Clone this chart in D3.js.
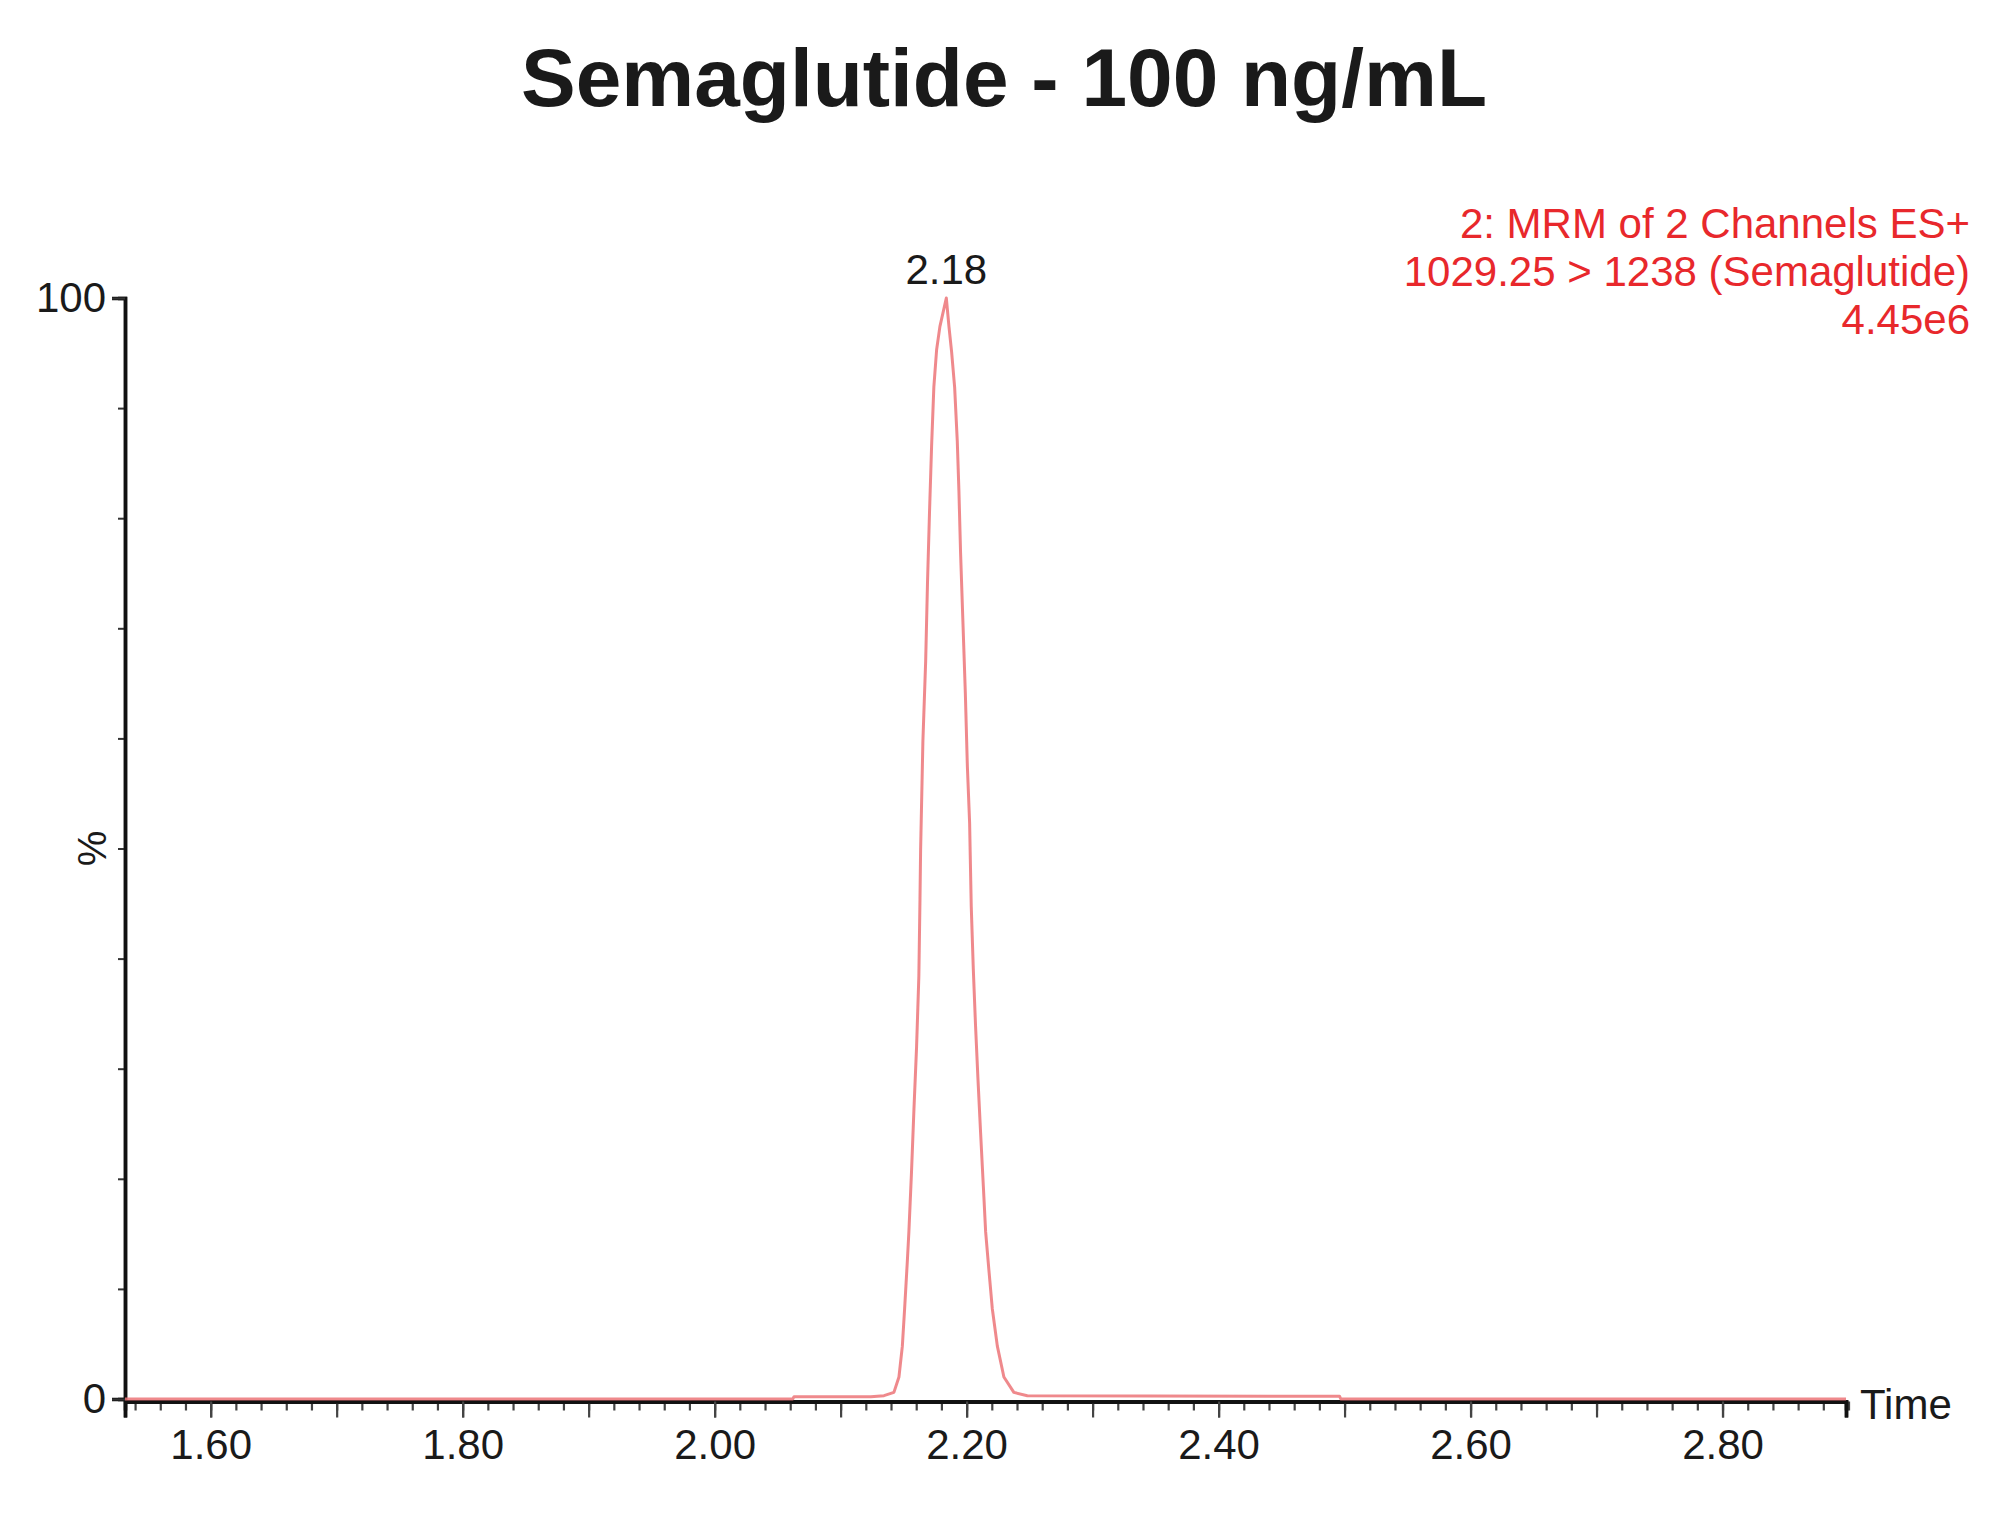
<!DOCTYPE html>
<html>
<head>
<meta charset="utf-8">
<script src="https://cdn.jsdelivr.net/npm/d3@7/dist/d3.min.js"></script>
<style>
  body { margin: 0; background: #fff; }
  svg { display: block; }
  text { font-family: "Liberation Sans", Arial, sans-serif; }
</style>
</head>
<body>
<svg id="chart" width="2000" height="1517"></svg>
<script>
// retention time (min) and relative intensity (%)
const times = [1.532, 2.062, 2.063, 2.124, 2.1344, 2.1423, 2.1463, 2.1490, 2.1508, 2.1529,
    2.1542, 2.1563, 2.1582, 2.1603, 2.1621, 2.1630, 2.1635, 2.1653, 2.1675, 2.1690,
    2.1706, 2.1722, 2.1740, 2.1762, 2.1788, 2.1839, 2.1860, 2.1881, 2.1905, 2.1926,
    2.1939, 2.1952, 2.1971, 2.1990, 2.2006, 2.2024, 2.2028, 2.2037, 2.2053, 2.2071,
    2.2090, 2.2111, 2.2133, 2.2151, 2.2177, 2.2204, 2.2244, 2.2296, 2.2375, 2.2482,
    2.496, 2.497, 2.898];
const intensity = [0, 0, 0.2, 0.2, 0.3, 0.6, 2.0, 4.8, 8.2, 12.4,
    15.2, 20.7, 26.3, 32.0, 38.4, 45.4, 49.9, 59.7, 67.0, 74.3,
    80.7, 86.5, 91.9, 95.3, 97.4, 100, 97.4, 95.1, 91.9, 87.0,
    82.5, 76.9, 70.5, 64.1, 57.5, 52.3, 49.9, 44.7, 39.1, 33.9,
    29.1, 24.2, 19.3, 15.2, 11.7, 8.2, 4.8, 2.0, 0.6, 0.3,
    0.25, 0, 0];

const xDomain = [1.532, 2.898];
const xMinorTicks = d3.range(0, 69).map(i => +(1.54 + i * 0.02).toFixed(2));
const xMidTicks = [1.60, 1.70, 1.80, 1.90, 2.00, 2.10, 2.20, 2.30, 2.40, 2.50, 2.60, 2.70, 2.80];
const xLabelTicks = [1.60, 1.80, 2.00, 2.20, 2.40, 2.60, 2.80];
const yTicks = [0, 10, 20, 30, 40, 50, 60, 70, 80, 90, 100];
const yLabelTicks = [0, 100];

const titleText = "Semaglutide - 100 ng/mL";
const infoLines = ["2: MRM of 2 Channels ES+", "1029.25 > 1238 (Semaglutide)", "4.45e6"];
const peakLabel = { time: 2.1839, text: "2.18" };

const TRACE = "#ec7478";
const RED_TEXT = "#e8282c";

const svg = d3.select("#chart");
const margin = { left: 125, right: 154, top: 298, bottom: 118 };
const W = 2000, H = 1517;

const x = d3.scaleLinear().domain(xDomain).range([margin.left, W - margin.right]);
const y = d3.scaleLinear().domain([0, 100]).range([H - margin.bottom, margin.top]);

svg.append("text")
    .attr("x", 1004).attr("y", 106)
    .attr("text-anchor", "middle")
    .attr("font-size", 82).attr("font-weight", "bold")
    .attr("fill", "#1a1a1a")
    .text(titleText);

// x axis sits just under the zero line of the trace
const xAxisG = svg.append("g").attr("transform", `translate(0,${y(0) + 2.5})`);
xAxisG.append("g")
    .call(d3.axisBottom(x).tickValues(xMinorTicks).tickSize(9).tickFormat(""));
xAxisG.append("g")
    .call(d3.axisBottom(x).tickValues(xMidTicks).tickSize(16).tickFormat(""));
xAxisG.append("g")
    .call(d3.axisBottom(x).tickValues(xLabelTicks).tickSize(16).tickPadding(12)
        .tickFormat(d3.format(".2f")));
xAxisG.selectAll("path.domain").attr("stroke-width", 3.5).attr("stroke", "#111");
xAxisG.selectAll(".tick line").attr("stroke", "#444").attr("stroke-width", 2.2);
xAxisG.selectAll("text").attr("font-size", 42).attr("fill", "#1a1a1a")
    .attr("font-family", "'Liberation Sans', Arial, sans-serif");

// y axis
const yAxisG = svg.append("g").attr("transform", `translate(${x.range()[0]},0)`);
yAxisG.append("g")
    .call(d3.axisLeft(y).tickValues(yTicks).tickSize(7).tickFormat(""));
yAxisG.append("g")
    .call(d3.axisLeft(y).tickValues(yLabelTicks).tickSize(13).tickPadding(6).tickFormat(d3.format("d")));
yAxisG.selectAll("path.domain").attr("stroke-width", 3.5).attr("stroke", "#111");
yAxisG.selectAll(".tick line").attr("stroke", "#333").attr("stroke-width", 2);
yAxisG.selectAll("text").attr("font-size", 42).attr("fill", "#1a1a1a")
    .attr("font-family", "'Liberation Sans', Arial, sans-serif");

svg.append("text")
    .attr("transform", `translate(106,${y(50)}) rotate(-90)`)
    .attr("text-anchor", "middle")
    .attr("font-size", 40).attr("fill", "#1a1a1a")
    .text("%");

svg.append("text")
    .attr("x", x.range()[1] + 14).attr("y", y(0) + 20)
    .attr("font-size", 42).attr("fill", "#1a1a1a")
    .text("Time");

// the chromatogram trace
const pts = times.map((t, i) => [t, intensity[i]]);
svg.append("path")
    .datum(pts)
    .attr("fill", "none")
    .attr("stroke", TRACE)
    .attr("stroke-opacity", 0.85)
    .attr("stroke-width", 3)
    .attr("stroke-linejoin", "round")
    .attr("d", d3.line().x(d => x(d[0])).y(d => y(d[1])));

svg.append("text")
    .attr("x", x(peakLabel.time)).attr("y", y(100) - 14)
    .attr("text-anchor", "middle")
    .attr("font-size", 42).attr("fill", "#1a1a1a")
    .text(peakLabel.text);

svg.append("g")
    .selectAll("text")
    .data(infoLines)
    .join("text")
    .attr("x", 1970)
    .attr("y", (d, i) => 238 + i * 48)
    .attr("text-anchor", "end")
    .attr("font-size", 42)
    .attr("fill", RED_TEXT)
    .text(d => d);
</script>
</body>
</html>
